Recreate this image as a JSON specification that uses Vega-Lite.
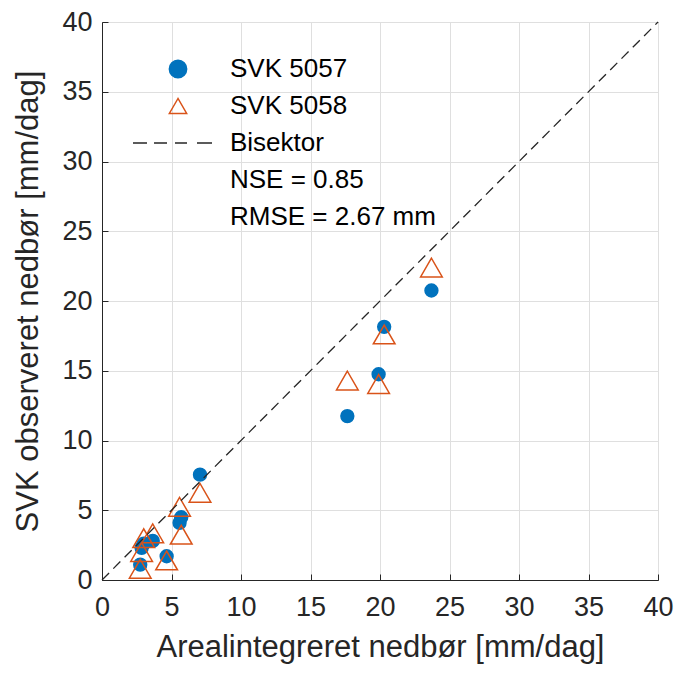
{
  "$schema": "https://vega.github.io/schema/vega-lite/v6.json",
  "width": 556,
  "height": 558,
  "autosize": {"type": "none"},
  "padding": {"left": 102, "top": 22, "right": 19, "bottom": 93},
  "background": "white",
  "config": {
    "font": "Liberation Sans",
    "view": {"stroke": "#262626", "strokeWidth": 1},
    "axis": {
      "grid": true,
      "gridColor": "#dfdfdf",
      "gridWidth": 1,
      "domainColor": "#262626",
      "domainWidth": 1,
      "tickColor": "#262626",
      "tickSize": -6,
      "labelFont": "Liberation Sans",
      "labelFontSize": 27,
      "labelColor": "#262626",
      "titleFont": "Liberation Sans",
      "titleFontSize": 31,
      "titleFontWeight": "normal",
      "titleColor": "#262626"
    }
  },
  "datasets": {
    "pts": [
      {"areal": 23.7, "obs": 20.75, "series": "SVK 5057"},
      {"areal": 20.3, "obs": 18.15, "series": "SVK 5057"},
      {"areal": 19.9, "obs": 14.75, "series": "SVK 5057"},
      {"areal": 17.65, "obs": 11.75, "series": "SVK 5057"},
      {"areal": 7.05, "obs": 7.55, "series": "SVK 5057"},
      {"areal": 5.7, "obs": 4.5, "series": "SVK 5057"},
      {"areal": 5.58, "obs": 4.1, "series": "SVK 5057"},
      {"areal": 3.65, "obs": 2.8, "series": "SVK 5057"},
      {"areal": 3.0, "obs": 2.6, "series": "SVK 5057"},
      {"areal": 2.85, "obs": 2.3, "series": "SVK 5057"},
      {"areal": 4.65, "obs": 1.7, "series": "SVK 5057"},
      {"areal": 2.75, "obs": 1.1, "series": "SVK 5057"},
      {"areal": 23.7, "obs": 22.4, "series": "SVK 5058"},
      {"areal": 20.3, "obs": 17.6, "series": "SVK 5058"},
      {"areal": 19.9, "obs": 14.05, "series": "SVK 5058"},
      {"areal": 17.65, "obs": 14.3, "series": "SVK 5058"},
      {"areal": 7.05, "obs": 6.25, "series": "SVK 5058"},
      {"areal": 5.58, "obs": 5.25, "series": "SVK 5058"},
      {"areal": 5.7, "obs": 3.25, "series": "SVK 5058"},
      {"areal": 3.65, "obs": 3.35, "series": "SVK 5058"},
      {"areal": 3.0, "obs": 3.0, "series": "SVK 5058"},
      {"areal": 2.85, "obs": 2.0, "series": "SVK 5058"},
      {"areal": 4.65, "obs": 1.4, "series": "SVK 5058"},
      {"areal": 2.75, "obs": 0.8, "series": "SVK 5058"}
    ],
    "bis": [
      {"areal": 0, "obs": 0},
      {"areal": 40, "obs": 40}
    ]
  },
  "encoding": {
    "x": {
      "field": "areal",
      "type": "quantitative",
      "scale": {"domain": [0, 40], "nice": false, "zero": false},
      "axis": {"title": "Arealintegreret nedbør [mm/dag]", "values": [0,5,10,15,20,25,30,35,40], "labelPadding": 20, "titlePadding": 12, "labelFlush": false}
    },
    "y": {
      "field": "obs",
      "type": "quantitative",
      "scale": {"domain": [0, 40], "nice": false, "zero": false},
      "axis": {"title": "SVK observeret nedbør [mm/dag]", "values": [0,5,10,15,20,25,30,35,40], "labelPadding": 16, "titlePadding": 17, "labelFlush": false}
    }
  },
  "layer": [
    {
      "data": {"name": "pts"},
      "transform": [{"filter": "datum.series === 'SVK 5057'"}],
      "mark": {"type": "point", "filled": true, "opacity": 1, "strokeWidth": 1.5, "size": 165},
      "encoding": {
        "shape": {
          "field": "series",
          "type": "nominal",
          "scale": {
            "domain": ["SVK 5057", "SVK 5058", "Bisektor", "NSE = 0.85", "RMSE = 2.67 mm"],
            "range": ["circle", "triangle-up", "M-5.2,0H-3.58M-2.77,0H-1.27M-0.35,0H1.04M2.19,0H3.93", "circle", "circle"]
          },
          "legend": {
            "title": null,
            "orient": "none",
            "legendX": 63,
            "legendY": 34,
            "padding": 0,
            "symbolSize": 300,
            "symbolStrokeWidth": 1.5,
            "symbolOpacity": 1,
            "labelOffset": 39,
            "labelFont": "Liberation Sans",
            "labelFontSize": 26,
            "labelColor": "#000000",
            "labelLimit": 400,
            "rowPadding": 11,
            "encode": {
              "symbols": {
                "update": {
                  "size": {"value": {"expr": "datum.value === 'SVK 5058' ? 470 : 300"}},
                  "strokeWidth": {"value": {"expr": "datum.value === 'Bisektor' ? 1.3 : 1.5"}}
                }
              }
            }
          }
        },
        "fill": {
          "field": "series",
          "type": "nominal",
          "scale": {
            "domain": ["SVK 5057", "SVK 5058", "Bisektor", "NSE = 0.85", "RMSE = 2.67 mm"],
            "range": ["#0072BD", "transparent", "transparent", "transparent", "transparent"]
          }
        },
        "stroke": {
          "field": "series",
          "type": "nominal",
          "scale": {
            "domain": ["SVK 5057", "SVK 5058", "Bisektor", "NSE = 0.85", "RMSE = 2.67 mm"],
            "range": ["#0072BD", "#D95319", "#262626", "transparent", "transparent"]
          }
        }
      }
    },
    {
      "data": {"name": "pts"},
      "transform": [{"filter": "datum.series === 'SVK 5058'"}],
      "mark": {"type": "point", "filled": false, "opacity": 1, "strokeWidth": 1.5, "size": 470},
      "encoding": {
        "shape": {"field": "series", "type": "nominal"},
        "fill": {"field": "series", "type": "nominal"},
        "stroke": {"field": "series", "type": "nominal"}
      }
    },
    {
      "data": {"name": "bis"},
      "mark": {"type": "line", "color": "#262626", "strokeWidth": 1.3, "strokeDash": [10, 6]},
      "encoding": {}
    }
  ]
}
